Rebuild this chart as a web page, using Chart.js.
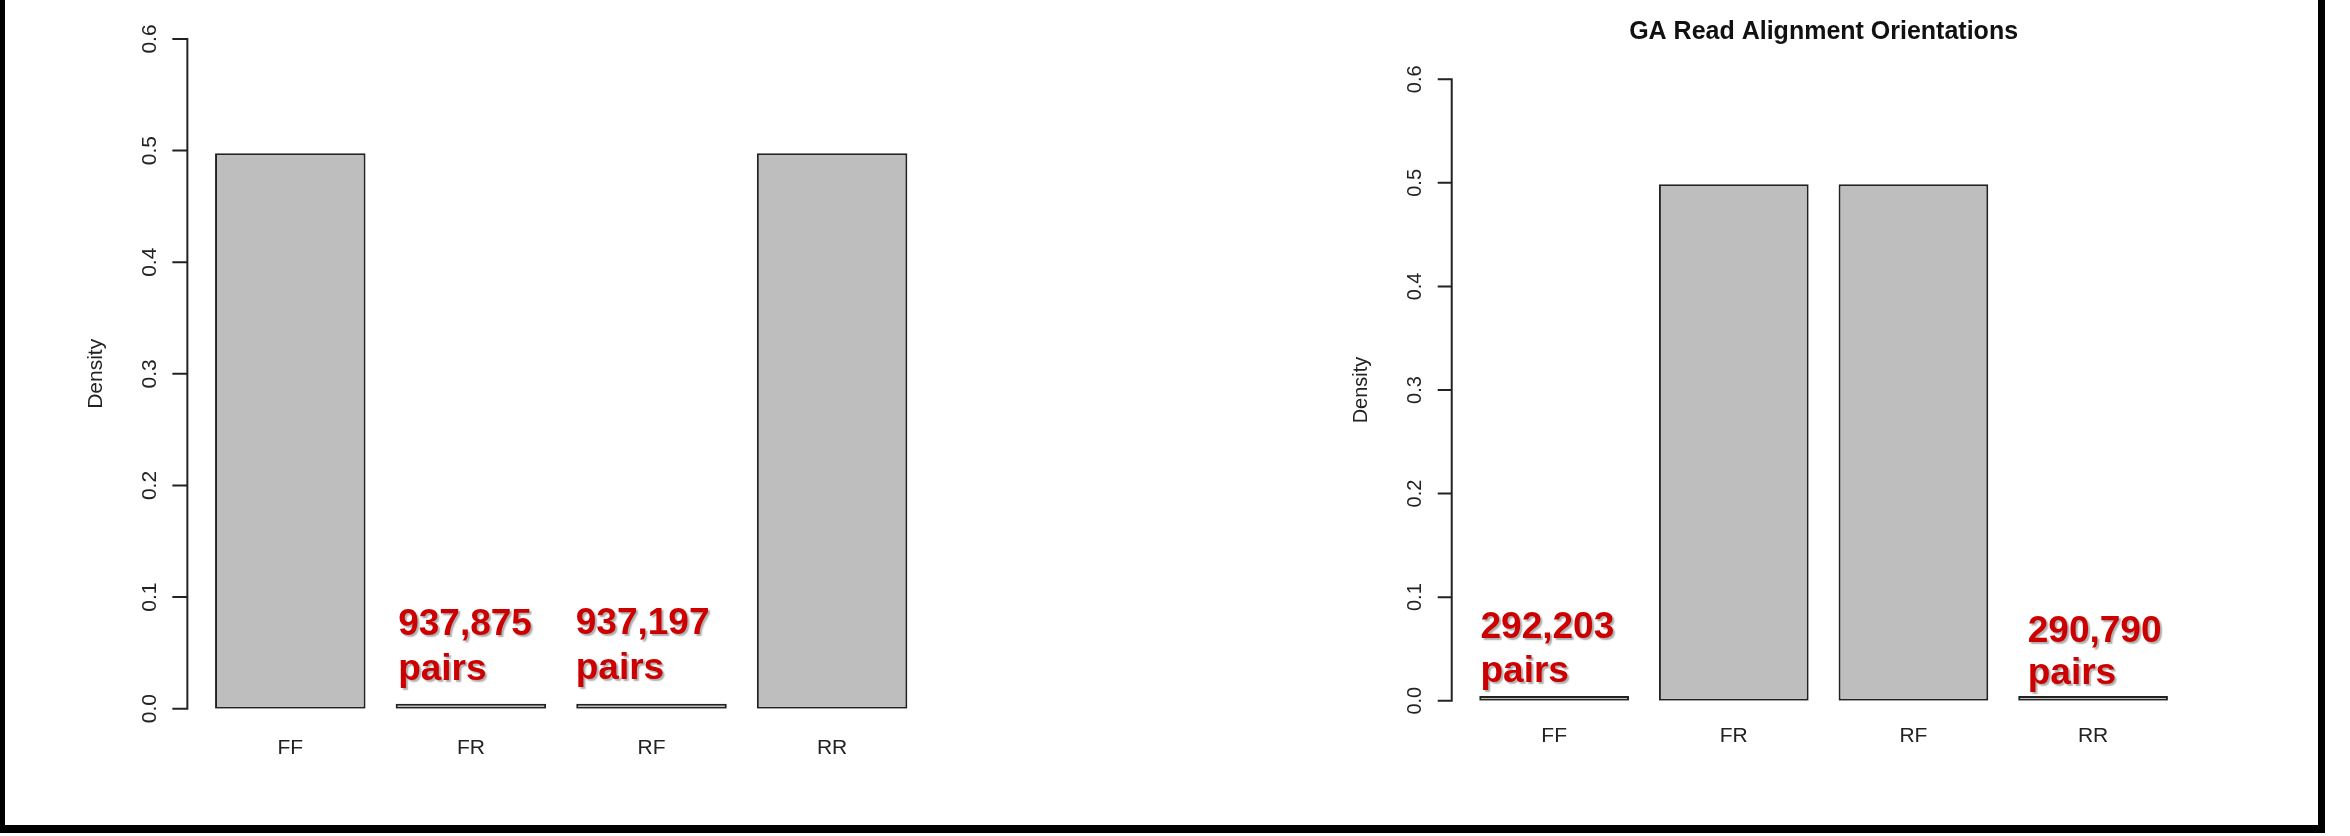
<!DOCTYPE html>
<html>
<head>
<meta charset="utf-8">
<script src="https://cdn.jsdelivr.net/npm/chart.js@4.4.1/dist/chart.umd.min.js"></script>
<style>
  html, body { margin: 0; padding: 0; background: #fff; overflow: hidden; width: 2350px; height: 836px; }
  canvas { position: absolute; top: 0; }
  #c1 { left: 0; }
  #c2 { left: 1175px; }
  #frame { position: absolute; left: 0; top: -10px; width: 2325px; height: 843px; box-sizing: border-box;
           border-left: 5px solid #000; border-right: 7px solid #000; border-bottom: 8px solid #000;
           pointer-events: none; z-index: 5; }
</style>
</head>
<body>
<canvas id="c1" width="1175" height="836"></canvas>
<canvas id="c2" width="1175" height="836"></canvas>
<div id="frame"></div>
<script>
// ---- data ----
const categories = ['FF', 'FR', 'RF', 'RR'];
const leftDensity = [0.4976, 0.0021, 0.0021, 0.4976];
const rightDensity = [0.0016, 0.4986, 0.4986, 0.0016];
const yTicks = [0, 0.1, 0.2, 0.3, 0.4, 0.5, 0.6];
const yTickLabels = ['0.0', '0.1', '0.2', '0.3', '0.4', '0.5', '0.6'];
const yAxisTitle = 'Density';
const chartTitle = 'GA Read Alignment Orientations';
const leftPairCounts = ['937,875', '937,197'];
const rightPairCounts = ['292,203', '290,790'];
const pairsWord = 'pairs';

const FONT = '"Liberation Sans", Arial, Helvetica, sans-serif';

function makeRPlugin(cfg) {
  return {
    id: 'rStyle',
    afterDatasetsDraw(chart) {
      const { ctx } = chart;
      const ys = chart.scales.y;
      const meta = chart.getDatasetMeta(0);
      ctx.save();
      ctx.font = 'bold ' + cfg.noteFont + 'px ' + FONT;
      ctx.fillStyle = '#CC0000';
      ctx.textAlign = 'left';
      ctx.textBaseline = 'alphabetic';
      ctx.shadowColor = 'rgba(0,0,0,0.32)';
      ctx.shadowOffsetX = 2;
      ctx.shadowOffsetY = 2;
      ctx.shadowBlur = 1.5;
      cfg.notes.forEach((n, i) => {
        const el = meta.data[n.index];
        const left = el.x - el.width / 2 + n.dx;
        const base = ys.getPixelForValue(n.y);
        ctx.fillText(cfg.counts[i], left, base);
        ctx.fillText(pairsWord, left, base + n.lh);
      });
      ctx.restore();
    },
    afterDraw(chart) {
      const { ctx, chartArea } = chart;
      const ys = chart.scales.y;
      const slot = (chartArea.right - chartArea.left) / chart.data.labels.length;
      const ax = chartArea.left - slot * 0.07;
      ctx.save();
      ctx.strokeStyle = '#222';
      ctx.lineWidth = 2;
      ctx.lineCap = 'butt';
      const yb = ys.getPixelForValue(yTicks[0]);
      const yt = ys.getPixelForValue(yTicks[yTicks.length - 1]);
      ctx.beginPath();
      ctx.moveTo(ax, yb + 1);
      ctx.lineTo(ax, yt - 1);
      yTicks.forEach(v => {
        const p = ys.getPixelForValue(v);
        ctx.moveTo(ax - cfg.tickLen, p);
        ctx.lineTo(ax, p);
      });
      ctx.stroke();
      ctx.fillStyle = '#222';
      ctx.textAlign = 'center';
      ctx.textBaseline = 'alphabetic';
      ctx.font = cfg.tickFont + 'px ' + FONT;
      yTicks.forEach((v, i) => {
        const p = ys.getPixelForValue(v);
        ctx.save();
        ctx.translate(ax - cfg.labelGap, p);
        ctx.rotate(-Math.PI / 2);
        ctx.fillText(yTickLabels[i], 0, 0);
        ctx.restore();
      });
      ctx.font = cfg.tickFont + 'px ' + FONT;
      ctx.save();
      ctx.translate(ax - cfg.titleGap, (yb + yt) / 2);
      ctx.rotate(-Math.PI / 2);
      ctx.fillText(yAxisTitle, 0, 0);
      ctx.restore();
      ctx.restore();
    }
  };
}

function makeChart(id, values, cfg) {
  return new Chart(document.getElementById(id), {
    type: 'bar',
    data: {
      labels: categories,
      datasets: [{
        data: values,
        backgroundColor: '#BEBEBE',
        borderColor: '#222',
        borderWidth: 2,
        borderSkipped: false,
        minBarLength: cfg.minBar,
        categoryPercentage: 1,
        barPercentage: 1 / 1.2
      }]
    },
    options: {
      responsive: false,
      animation: false,
      devicePixelRatio: 1,
      layout: { padding: cfg.padding },
      plugins: {
        legend: { display: false },
        tooltip: { enabled: false },
        title: cfg.title ? {
          display: true,
          text: cfg.title,
          color: '#111',
          font: { family: FONT, size: 25, weight: 'bold', lineHeight: 1.2 },
          padding: cfg.titlePadding
        } : { display: false }
      },
      scales: {
        x: {
          type: 'category',
          offset: true,
          grid: { display: false, drawTicks: false },
          border: { display: false },
          ticks: {
            color: '#222',
            font: { family: FONT, size: cfg.catFont, lineHeight: 1.2 },
            padding: cfg.catPad,
            maxRotation: 0,
            autoSkip: false
          }
        },
        y: {
          display: false,
          min: yTicks[0],
          max: yTicks[yTicks.length - 1]
        }
      }
    },
    plugins: [makeRPlugin(cfg)]
  });
}

makeChart('c1', leftDensity, {
  padding: { left: 200, right: 252.6, top: 39, bottom: 49.1 },
  catFont: 21, catPad: 26.5,
  tickFont: 21, tickLen: 15, labelGap: 31, titleGap: 85,
  minBar: 5, noteFont: 37,
  counts: leftPairCounts,
  notes: [
    { index: 1, dx: 2.5, y: 0.066, lh: 45 },
    { index: 2, dx: -0.5, y: 0.0669, lh: 45 }
  ]
});

makeChart('c2', rightDensity, {
  title: chartTitle,
  titlePadding: { top: 17.1, bottom: 32.2 },
  padding: { left: 289.3, right: 167.1, top: 0, bottom: 64.3 },
  catFont: 21, catPad: 22.9,
  tickFont: 20, tickLen: 14, labelGap: 31, titleGap: 85,
  minBar: 4.7, noteFont: 37,
  counts: rightPairCounts,
  notes: [
    { index: 0, dx: 1.2, y: 0.0602, lh: 43.4 },
    { index: 3, dx: 9.5, y: 0.0564, lh: 41.7 }
  ]
});
</script>
</body>
</html>
